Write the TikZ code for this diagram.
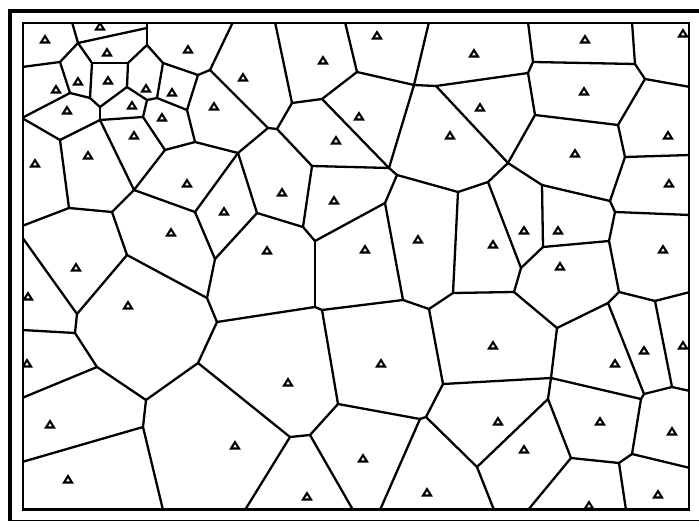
\documentclass[tikz,border=0pt]{standalone}
\begin{document}
\begin{tikzpicture}[x=1pt,y=-1pt,
  edge/.style={line width=2.3pt, line cap=round, line join=round},
  site/.pic={\draw[line width=2.1pt, line join=miter] (-4,3.5) -- (4,3.5) -- (0,-2.9) -- cycle;}]
\useasboundingbox (0,0) rectangle (699,521);
\fill[white] (0,0) rectangle (699,521);
\draw[line width=4pt] (10.3,11) rectangle (703,521.8);
% vertices
\coordinate (v1) at (72,22);
\coordinate (v2) at (78,43);
\coordinate (v3) at (147,22);
\coordinate (v4) at (147,28);
\coordinate (v5) at (60,62);
\coordinate (v6) at (92,63);
\coordinate (v7) at (22,67);
\coordinate (v8) at (70,93);
\coordinate (v9) at (90,98);
\coordinate (v10) at (128,63);
\coordinate (v11) at (147,45);
\coordinate (v12) at (163,63);
\coordinate (v13) at (127,87);
\coordinate (v14) at (147,100);
\coordinate (v15) at (157,98);
\coordinate (v16) at (100,107);
\coordinate (v17) at (100,120);
\coordinate (v18) at (143,117);
\coordinate (v19) at (22,118);
\coordinate (v20) at (60,140);
\coordinate (v21) at (165,150);
\coordinate (v22) at (134,190);
\coordinate (v23) at (69,208);
\coordinate (v24) at (22,226);
\coordinate (v25) at (112,212);
\coordinate (v26) at (127,255);
\coordinate (v27) at (22,237);
\coordinate (v28) at (77,314);
\coordinate (v29) at (75,333);
\coordinate (v30) at (22,330);
\coordinate (v31) at (97,367);
\coordinate (v32) at (22,398);
\coordinate (v33) at (146,400);
\coordinate (v34) at (143,427);
\coordinate (v35) at (22,462);
\coordinate (v36) at (163,510);
\coordinate (v37) at (233,22);
\coordinate (v38) at (210,70);
\coordinate (v39) at (198,75);
\coordinate (v40) at (187,110);
\coordinate (v41) at (195,142);
\coordinate (v42) at (238,153);
\coordinate (v43) at (268,128);
\coordinate (v44) at (277,129);
\coordinate (v45) at (292,103);
\coordinate (v46) at (275,22);
\coordinate (v47) at (322,99);
\coordinate (v48) at (345,22);
\coordinate (v49) at (357,72);
\coordinate (v50) at (312,166);
\coordinate (v51) at (195,212);
\coordinate (v52) at (257,213);
\coordinate (v53) at (215,259);
\coordinate (v54) at (303,227);
\coordinate (v55) at (315,241);
\coordinate (v56) at (315,307);
\coordinate (v57) at (322,310);
\coordinate (v58) at (217,322);
\coordinate (v59) at (207,298);
\coordinate (v60) at (198,363);
\coordinate (v61) at (290,437);
\coordinate (v62) at (310,435);
\coordinate (v63) at (338,404);
\coordinate (v64) at (245,510);
\coordinate (v65) at (353,510);
\coordinate (v66) at (429,22);
\coordinate (v67) at (414,85);
\coordinate (v68) at (436,86);
\coordinate (v69) at (528,73);
\coordinate (v70) at (389,168);
\coordinate (v71) at (397,175);
\coordinate (v72) at (385,203);
\coordinate (v73) at (458,192);
\coordinate (v74) at (488,182);
\coordinate (v75) at (508,163);
\coordinate (v76) at (535,115);
\coordinate (v77) at (403,300);
\coordinate (v78) at (429,309);
\coordinate (v79) at (453,293);
\coordinate (v80) at (514,292);
\coordinate (v81) at (521,268);
\coordinate (v82) at (528,22);
\coordinate (v83) at (533,62);
\coordinate (v84) at (635,64);
\coordinate (v85) at (632,22);
\coordinate (v86) at (645,79);
\coordinate (v87) at (690,87);
\coordinate (v88) at (618,125);
\coordinate (v89) at (625,157);
\coordinate (v90) at (690,155);
\coordinate (v91) at (610,201);
\coordinate (v92) at (542,185);
\coordinate (v93) at (543,247);
\coordinate (v94) at (609,241);
\coordinate (v95) at (615,212);
\coordinate (v96) at (690,215);
\coordinate (v97) at (619,292);
\coordinate (v98) at (655,301);
\coordinate (v99) at (690,292);
\coordinate (v100) at (608,303);
\coordinate (v101) at (557,328);
\coordinate (v102) at (443,384);
\coordinate (v103) at (426,417);
\coordinate (v104) at (420,419);
\coordinate (v105) at (380,510);
\coordinate (v106) at (477,467);
\coordinate (v107) at (494,510);
\coordinate (v108) at (551,378);
\coordinate (v109) at (641,399);
\coordinate (v110) at (644,394);
\coordinate (v111) at (672,387);
\coordinate (v112) at (690,391);
\coordinate (v113) at (632,454);
\coordinate (v114) at (619,463);
\coordinate (v115) at (690,468);
\coordinate (v116) at (571,458);
\coordinate (v117) at (548,399);
\coordinate (v118) at (528,510);
\coordinate (v119) at (626,510);
\begin{scope}
\clip (23,23) rectangle (689,509.5);
% edges
\foreach \a/\b in {1/2,2/4,3/4,2/5,2/6,5/7,5/8,6/10,6/9,4/11,11/10,11/12,10/13,13/14,14/15,15/12,14/18,
  8/9,9/16,16/13,16/17,8/19,19/20,20/17,17/18,18/21,17/22,21/22,20/23,23/24,23/25,25/22,25/26,26/28,
  28/27,28/29,29/30,29/31,31/32,31/33,33/34,34/35,34/36,
  12/39,39/38,38/37,39/40,40/15,40/41,41/21,41/42,42/43,38/43,43/44,44/45,45/46,45/47,47/49,48/49,
  47/70,44/50,50/70,49/67,66/67,67/68,67/70,68/69,69/83,83/82,69/76,68/75,75/76,70/71,71/73,71/72,
  73/74,74/75,74/81,81/80,81/93,80/79,79/73,79/78,78/77,77/72,72/55,55/54,54/50,54/52,52/42,42/51,
  51/22,51/53,52/53,53/59,59/26,59/58,58/56,56/55,56/57,57/77,57/63,58/60,60/33,60/61,61/62,62/63,
  61/64,62/65,63/104,104/103,104/105,103/102,103/106,102/78,102/108,106/117,106/107,80/101,101/100,
  101/108,108/117,117/116,116/118,116/114,114/113,114/119,113/109,113/115,109/110,109/108,110/100,
  110/111,111/112,111/98,98/97,98/99,97/94,97/100,94/93,94/95,95/91,95/96,91/92,91/89,92/75,92/93,
  89/90,89/88,88/76,88/86,86/87,86/84,84/85,84/83}
  \draw[edge] (v\a) -- (v\b);
% sites
\foreach \p in {(45,39),(100,26),(107,52),(78,81),(56,89),(108,80),(67,110),(146,88),(132,105),
  (172,92),(162,117),(134,135),(88,155),(35,163),(188,49),(243,77),(214,106),(323,60),(336,140),
  (377,35),(474,53),(480,107),(450,135),(359,116),(585,39),(683,33),(584,91),(668,135),(575,153),
  (669,183),(171,232),(76,267),(28,296),(128,305),(187,183),(224,211),(282,192),(334,200),(267,250),
  (418,239),(365,249),(493,244),(524,230),(493,345),(558,230),(663,249),(560,266),(683,345),(644,350),
  (27,363),(50,424),(68,479),(288,382),(235,445),(307,496),(381,363),(498,421),(363,458),(427,492),
  (524,449),(615,363),(600,421),(672,431),(658,494),(589,505)}
  \pic at \p {site};
\end{scope}
\draw[line width=2.2pt] (23,23) rectangle (689,509.5);
\end{tikzpicture}
\end{document}
